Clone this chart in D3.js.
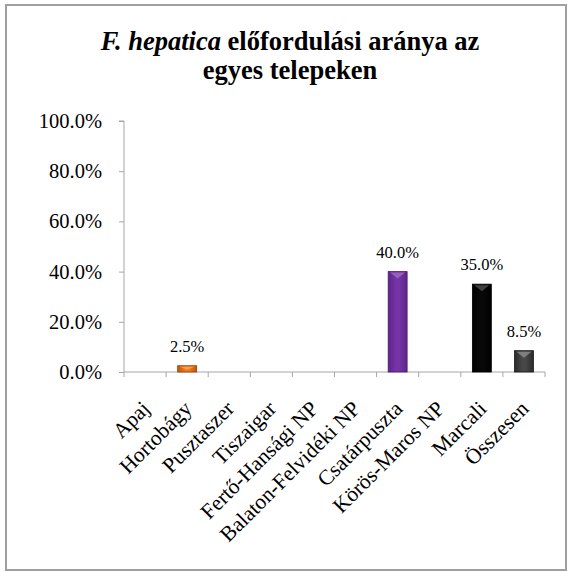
<!DOCTYPE html>
<html>
<head>
<meta charset="utf-8">
<script src="https://cdn.jsdelivr.net/npm/d3@7"></script>
<style>
  html, body { margin: 0; padding: 0; background: #fff; }
  svg { display: block; }
  text { font-family: "Liberation Serif", "Times New Roman", serif; fill: #000; }
</style>
</head>
<body>
<svg id="chart" width="571" height="572"></svg>
<script>
const categories = ["Apaj", "Hortobágy", "Pusztaszer", "Tiszaigar", "Fertő-Hansági NP",
  "Balaton-Felvidéki NP", "Csatárpuszta", "Körös-Maros NP", "Marcali", "Összesen"];
const values = [0, 2.5, 0, 0, 0, 0, 40.0, 0, 35.0, 8.5];
const yTicks = [0, 20, 40, 60, 80, 100];
const barColors = ["#E46C0A", "#E46C0A", "#E46C0A", "#E46C0A", "#E46C0A",
  "#E46C0A", "#7030A0", "#7030A0", "#000000", "#404040"];

const svg = d3.select("#chart");

// frame
svg.append("rect").attr("x", 6).attr("y", 5).attr("width", 560).attr("height", 565)
  .attr("fill", "#fff").attr("stroke", "#a0a0a0").attr("stroke-width", 2);

// title
const title = svg.append("text").attr("text-anchor", "middle")
  .attr("font-size", 26.5).attr("font-weight", "bold");
const l1 = title.append("tspan").attr("x", 290).attr("y", 50);
l1.append("tspan").attr("font-style", "italic").text("F. hepatica");
l1.append("tspan").text(" előfordulási aránya az");
title.append("tspan").attr("x", 290).attr("y", 79).text("egyes telepeken");

const x0 = 124, x1 = 545, yTop = 121, yBot = 372;
const x = d3.scaleBand().domain(categories).range([x0, x1])
  .paddingInner(0.55).paddingOuter(0.275);
const y = d3.scaleLinear().domain([0, 100]).range([yBot, yTop]);

const defs = svg.append("defs");
function grad(id, edge, mid) {
  const g = defs.append("linearGradient").attr("id", id)
    .attr("x1", "0%").attr("x2", "100%").attr("y1", "0%").attr("y2", "0%");
  g.append("stop").attr("offset", "0%").attr("stop-color", edge);
  g.append("stop").attr("offset", "40%").attr("stop-color", mid);
  g.append("stop").attr("offset", "60%").attr("stop-color", mid);
  g.append("stop").attr("offset", "100%").attr("stop-color", edge);
}
const gradSpec = {
  "#E46C0A": ["#C4560A", "#EE7A1A", "#F9A55A", "#8E3F06"],
  "#7030A0": ["#5E2488", "#7434A6", "#9A68C0", "#4A1A6E"],
  "#000000": ["#000000", "#080808", "#4a4a4a", "#000000"],
  "#404040": ["#2a2a2a", "#474747", "#8a8a8a", "#1a1a1a"]
};
Object.keys(gradSpec).forEach((k, i) => grad("g" + i, gradSpec[k][0], gradSpec[k][1]));
const gradId = c => "url(#g" + Object.keys(gradSpec).indexOf(c) + ")";

// y axis
const yAxis = d3.axisLeft(y).tickValues(yTicks).tickSize(5).tickPadding(17)
  .tickFormat(d => d3.format(".1f")(d) + "%");
const ya = svg.append("g").attr("transform", `translate(${x0},0)`).call(yAxis);
ya.select(".domain").attr("stroke", "#a6a6a6").attr("d", `M-5,${yTop}H0V${yBot}`);
ya.selectAll(".tick line").attr("stroke", "#a6a6a6");
ya.selectAll(".tick text").attr("font-size", 20.5)
  .attr("font-family", "Liberation Serif, serif").attr("fill", "#000");

// x axis
const xa = svg.append("g").attr("transform", `translate(0,${yBot})`);
xa.append("line").attr("x1", x0).attr("x2", x1).attr("y1", 0).attr("y2", 0)
  .attr("stroke", "#a6a6a6");
const bounds = categories.map(c => x(c) - x.step() * x.paddingInner() / 2);
bounds.push(x1);
xa.selectAll("line.tk").data(bounds).join("line").attr("class", "tk")
  .attr("x1", d => d).attr("x2", d => d).attr("y1", 0).attr("y2", 5)
  .attr("stroke", "#a6a6a6");
xa.selectAll("text.lbl").data(categories).join("text").attr("class", "lbl")
  .attr("text-anchor", "end").attr("font-size", 21.5)
  .attr("transform", d => `translate(${x(d) + x.bandwidth() / 2 + 6},38) rotate(-45)`)
  .text(d => d);

// bars
const bw = x.bandwidth();
const bars = svg.append("g");
categories.forEach((c, i) => {
  const v = values[i];
  if (!v) return;
  const bx = x(c), by = y(v), bh = y(0) - y(v);
  const col = barColors[i];
  bars.append("rect").attr("x", bx).attr("y", by).attr("width", bw).attr("height", bh)
    .attr("fill", gradId(col)).attr("stroke", gradSpec[col][3]).attr("stroke-width", 0.8);
  const th = Math.min(6, bh / 2);
  bars.append("path")
    .attr("d", `M${bx + 2},${by + 1}L${bx + bw - 2},${by + 1}L${bx + bw / 2},${by + 1 + th}Z`)
    .attr("fill", gradSpec[col][2]).attr("opacity", 0.85);
  svg.append("text").attr("text-anchor", "middle").attr("font-size", 16.5)
    .attr("x", bx + bw / 2).attr("y", by - 14)
    .text(d3.format(".1f")(v) + "%");
});
</script>
</body>
</html>
